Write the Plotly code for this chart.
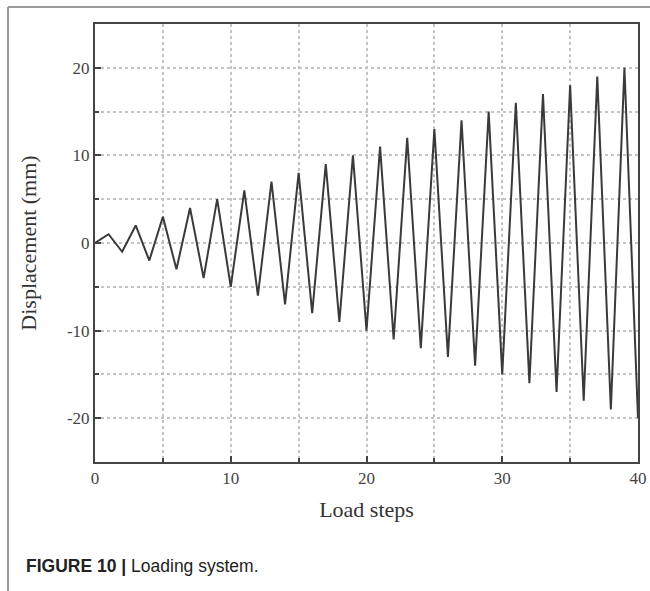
import plotly.graph_objects as go

load_steps = list(range(0, 41))
displacement = [0, 1, -1, 2, -2, 3, -3, 4, -4, 5, -5, 6, -6, 7, -7, 8, -8, 9, -9, 10, -10,
                11, -11, 12, -12, 13, -13, 14, -14, 15, -15, 16, -16, 17, -17, 18, -18, 19, -19, 20, -20]
x_ticks = [0, 10, 20, 30, 40]
y_ticks = [-20, -10, 0, 10, 20]

fig = go.Figure()
fig.add_trace(go.Scatter(x=load_steps, y=displacement, mode="lines",
                         line=dict(color="#3a3a3a", width=2), showlegend=False))

serif = "Liberation Serif, Times New Roman, serif"
axis_common = dict(
    showline=True, linecolor="#444444", linewidth=2, mirror=True,
    ticks="inside", ticklen=6, tickwidth=2, tickcolor="#444444",
    showgrid=True, griddash="dot", gridcolor="#c4c4c4", gridwidth=1.5,
    zeroline=False, automargin=False,
    tickfont=dict(family=serif, size=17, color="#444444"),
)
minor_common = dict(dtick=5, tick0=0, ticks="inside", ticklen=4, tickwidth=2,
                    tickcolor="#444444", showgrid=True, griddash="dot",
                    gridcolor="#c4c4c4", gridwidth=1.5)

fig.update_xaxes(range=[0, 40], tickvals=x_ticks, ticktext=[str(v) for v in x_ticks],
                 minor=minor_common,
                 title=dict(text="Load steps", font=dict(family=serif, size=22, color="#333333"),
                            standoff=14),
                 **axis_common)
fig.update_yaxes(range=[-25, 25], tickvals=y_ticks, ticktext=[str(v) for v in y_ticks],
                 minor=minor_common,
                 title=dict(text="Displacement (mm)", font=dict(family=serif, size=22, color="#333333"),
                            standoff=24),
                 **axis_common)

fig.add_annotation(text="<b>FIGURE 10 |</b> Loading system.", xref="paper", yref="paper",
                   x=-0.1308, y=-0.237, xanchor="left", yanchor="middle", showarrow=False,
                   font=dict(family="Liberation Sans, Arial, sans-serif", size=17.5, color="#222222"))

# outer frame (top and left)
fig.add_shape(type="line", xref="paper", yref="paper", x0=-0.1602, x1=1.03, y0=1.0388, y1=1.0388,
              line=dict(color="#9a9a9a", width=2))
fig.add_shape(type="line", xref="paper", yref="paper", x0=-0.1602, x1=-0.1602, y0=1.0388, y1=-0.30,
              line=dict(color="#9a9a9a", width=2))

fig.update_layout(width=650, height=591, margin=dict(l=95, r=12, t=24, b=129),
                  plot_bgcolor="white", paper_bgcolor="white")

fig.write_html("out.html")
